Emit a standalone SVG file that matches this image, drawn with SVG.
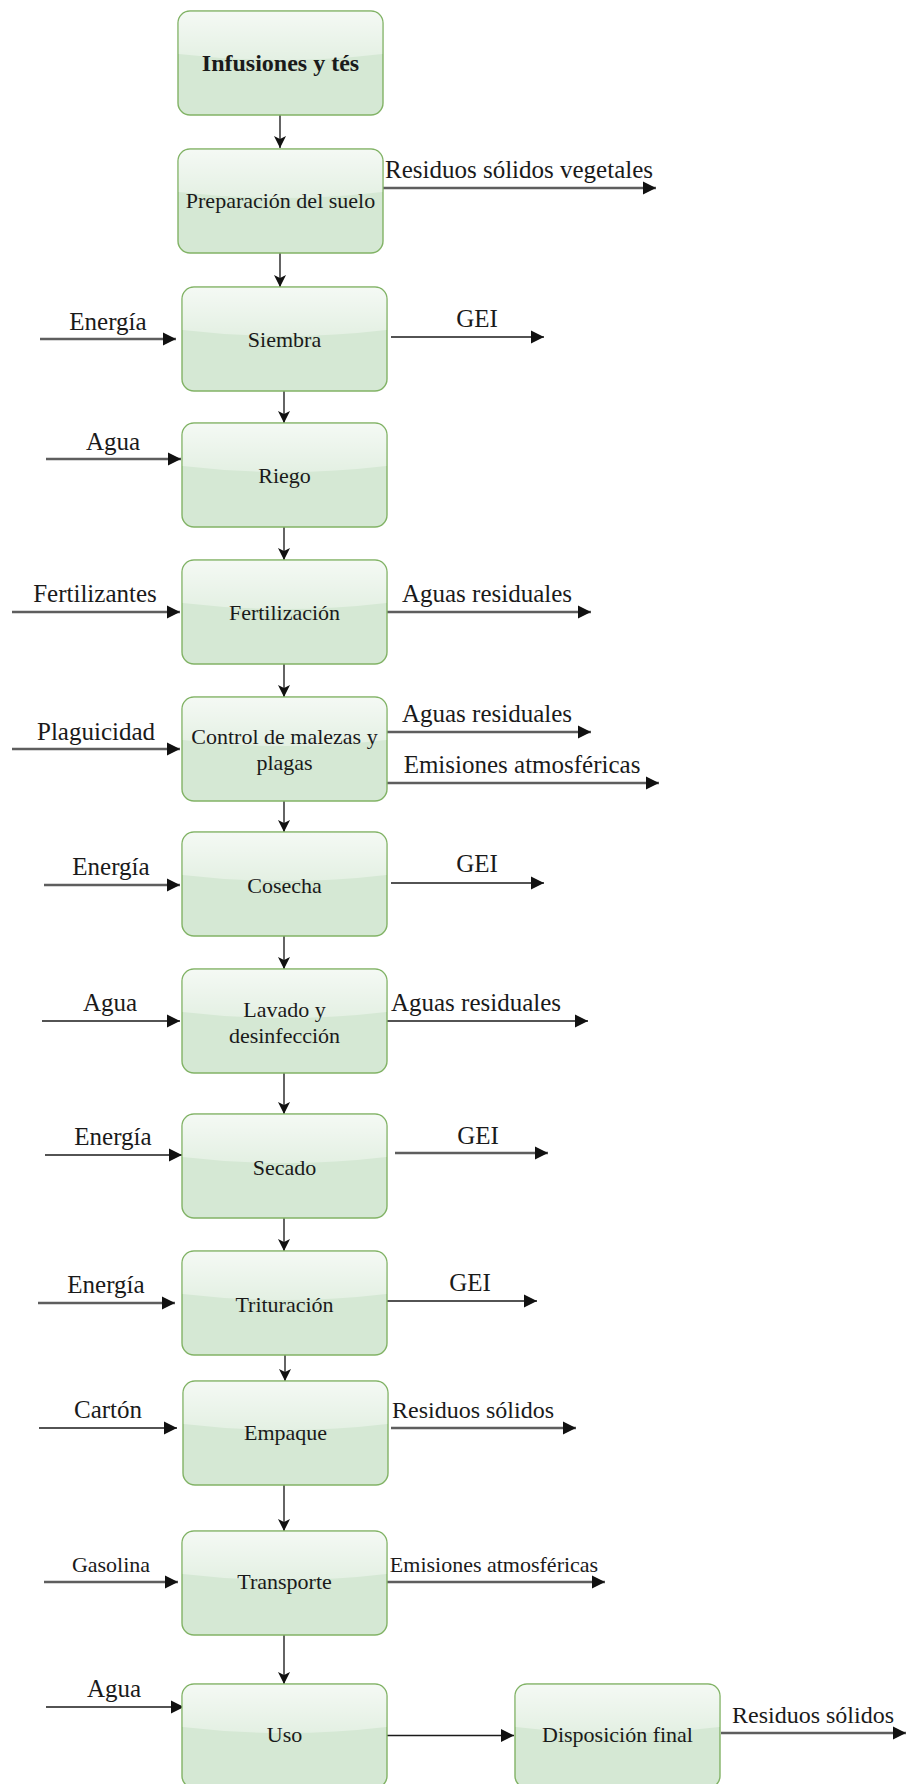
<svg xmlns="http://www.w3.org/2000/svg" xmlns:xlink="http://www.w3.org/1999/xlink" width="908" height="1784" viewBox="0 0 908 1784">
  <style>
    .box { fill: #d5e8d4; stroke: #82b366; stroke-width: 1.4; }
    .glass { fill: url(#glassGrad); }
    .node-text { font-family: "Liberation Serif", "Times New Roman", serif; font-size: 22px; fill: #1a1a1a; text-anchor: middle; }
    .title { font-weight: bold; font-size: 24px; }
    .flow-label { font-family: "Liberation Serif", "Times New Roman", serif; font-size: 25px; fill: #1a1a1a; text-anchor: middle; }
    .small { font-size: 22px; }
    .mid { font-size: 24px; }
    .main { fill: none; stroke: #111; stroke-width: 1.3; marker-end: url(#classic); }
    .thick { fill: none; stroke: #5e5e5e; stroke-width: 2.6; marker-end: url(#block); }
    .thin { fill: none; stroke: #1a1a1a; stroke-width: 1.7; marker-end: url(#block); }
  </style>
  <defs>
    <linearGradient id="glassGrad" x1="0" y1="0" x2="0" y2="1">
      <stop offset="0" stop-color="#ffffff" stop-opacity="0.75"/>
      <stop offset="1" stop-color="#ffffff" stop-opacity="0.35"/>
    </linearGradient>
    <marker id="classic" markerUnits="userSpaceOnUse" markerWidth="12" markerHeight="12" refX="12" refY="6" orient="auto">
      <path d="M0,0 L12,6 L0,12 L3,6 Z" fill="#111"/>
    </marker>
    <marker id="block" markerUnits="userSpaceOnUse" markerWidth="14" markerHeight="14" refX="13" refY="7" orient="auto">
      <path d="M0,0.5 L13,7 L0,13.5 Z" fill="#111"/>
    </marker>
    <!-- shared rounded process box with glossy top half -->
    <g id="shape">
      <rect class="box" x="0" y="0" width="205" height="104" rx="12" ry="12"/>
      <path class="glass" d="M12,0.7 H193 A11.3,11.3 0 0 1 204.3,12 V43 Q102.5,55 0.7,43 V12 A11.3,11.3 0 0 1 12,0.7 Z"/>
    </g>
  </defs>

  <rect x="0" y="0" width="908" height="1784" fill="#ffffff"/>

  <!-- connectors -->
  <g id="connectors">
    <!-- main process chain -->
    <line class="main" x1="280" y1="115" x2="280" y2="148"/>
    <line class="main" x1="280" y1="252" x2="280" y2="287"/>
    <line class="main" x1="284" y1="391" x2="284" y2="423"/>
    <line class="main" x1="284" y1="527" x2="284" y2="560"/>
    <line class="main" x1="284" y1="664" x2="284" y2="697"/>
    <line class="main" x1="284" y1="801" x2="284" y2="832"/>
    <line class="main" x1="284" y1="936" x2="284" y2="969"/>
    <line class="main" x1="284" y1="1073" x2="284" y2="1114"/>
    <line class="main" x1="284" y1="1218" x2="284" y2="1251"/>
    <line class="main" x1="285" y1="1355" x2="285" y2="1381"/>
    <line class="main" x1="284" y1="1485" x2="284" y2="1531"/>
    <line class="main" x1="284" y1="1635" x2="284" y2="1684"/>
    <line class="thin" x1="387" y1="1735.5" x2="514" y2="1735.5"/>

    <!-- inputs -->
    <line class="thick" x1="40" y1="339" x2="176" y2="339"/>
    <line class="thick" x1="46" y1="459" x2="181" y2="459"/>
    <line class="thick" x1="12" y1="612" x2="180" y2="612"/>
    <line class="thick" x1="12" y1="749" x2="180" y2="749"/>
    <line class="thick" x1="44" y1="885" x2="180" y2="885"/>
    <line class="thin" x1="42" y1="1021" x2="180" y2="1021"/>
    <line class="thin" x1="45" y1="1155" x2="182" y2="1155"/>
    <line class="thick" x1="38" y1="1303" x2="175" y2="1303"/>
    <line class="thin" x1="39" y1="1428" x2="177" y2="1428"/>
    <line class="thick" x1="44" y1="1582" x2="178" y2="1582"/>
    <line class="thin" x1="46" y1="1707" x2="184" y2="1707"/>

    <!-- outputs -->
    <line class="thick" x1="383" y1="188" x2="656" y2="188"/>
    <line class="thin" x1="391" y1="337" x2="544" y2="337"/>
    <line class="thick" x1="387" y1="612" x2="591" y2="612"/>
    <line class="thick" x1="387" y1="732" x2="591" y2="732"/>
    <line class="thick" x1="387" y1="783" x2="659" y2="783"/>
    <line class="thin" x1="391" y1="883" x2="544" y2="883"/>
    <line class="thin" x1="383" y1="1021" x2="588" y2="1021"/>
    <line class="thick" x1="395" y1="1153" x2="548" y2="1153"/>
    <line class="thin" x1="385" y1="1301" x2="537" y2="1301"/>
    <line class="thick" x1="391" y1="1428" x2="576" y2="1428"/>
    <line class="thick" x1="387" y1="1582" x2="605" y2="1582"/>
    <line class="thick" x1="721" y1="1733" x2="906" y2="1733"/>
  </g>

  <!-- flow labels -->
  <g id="flow-labels">
    <text class="flow-label" x="519" y="178">Residuos sólidos vegetales</text>
    <text class="flow-label" x="108" y="330">Energía</text>
    <text class="flow-label" x="477" y="327">GEI</text>
    <text class="flow-label" x="113" y="450">Agua</text>
    <text class="flow-label" x="95" y="602">Fertilizantes</text>
    <text class="flow-label" x="487" y="602">Aguas residuales</text>
    <text class="flow-label" x="96" y="740">Plaguicidad</text>
    <text class="flow-label" x="487" y="722">Aguas residuales</text>
    <text class="flow-label" x="522" y="773">Emisiones atmosféricas</text>
    <text class="flow-label" x="111" y="875">Energía</text>
    <text class="flow-label" x="477" y="872">GEI</text>
    <text class="flow-label" x="110" y="1011">Agua</text>
    <text class="flow-label" x="476" y="1011">Aguas residuales</text>
    <text class="flow-label" x="113" y="1145">Energía</text>
    <text class="flow-label" x="478" y="1144">GEI</text>
    <text class="flow-label" x="106" y="1293">Energía</text>
    <text class="flow-label" x="470" y="1291">GEI</text>
    <text class="flow-label" x="108" y="1418">Cartón</text>
    <text class="flow-label mid" x="473" y="1418">Residuos sólidos</text>
    <text class="flow-label small" x="111" y="1572">Gasolina</text>
    <text class="flow-label small" x="494" y="1572">Emisiones atmosféricas</text>
    <text class="flow-label" x="114" y="1697">Agua</text>
    <text class="flow-label mid" x="813" y="1723">Residuos sólidos</text>
  </g>

  <!-- process nodes -->
  <g id="node-infusiones" transform="translate(178,11)">
    <use xlink:href="#shape"/>
    <text class="node-text title" x="102.5" y="60">Infusiones y tés</text>
  </g>
  <g id="node-preparacion" transform="translate(178,149)">
    <use xlink:href="#shape"/>
    <text class="node-text" x="102.5" y="59">Preparación del suelo</text>
  </g>
  <g id="node-siembra" transform="translate(182,287)">
    <use xlink:href="#shape"/>
    <text class="node-text" x="102.5" y="60">Siembra</text>
  </g>
  <g id="node-riego" transform="translate(182,423)">
    <use xlink:href="#shape"/>
    <text class="node-text" x="102.5" y="60">Riego</text>
  </g>
  <g id="node-fertilizacion" transform="translate(182,560)">
    <use xlink:href="#shape"/>
    <text class="node-text" x="102.5" y="60">Fertilización</text>
  </g>
  <g id="node-control" transform="translate(182,697)">
    <use xlink:href="#shape"/>
    <text class="node-text" x="102.5" y="46.5">Control de malezas y</text>
    <text class="node-text" x="102.5" y="73">plagas</text>
  </g>
  <g id="node-cosecha" transform="translate(182,832)">
    <use xlink:href="#shape"/>
    <text class="node-text" x="102.5" y="61">Cosecha</text>
  </g>
  <g id="node-lavado" transform="translate(182,969)">
    <use xlink:href="#shape"/>
    <text class="node-text" x="102.5" y="47.5">Lavado y</text>
    <text class="node-text" x="102.5" y="73.5">desinfección</text>
  </g>
  <g id="node-secado" transform="translate(182,1114)">
    <use xlink:href="#shape"/>
    <text class="node-text" x="102.5" y="61">Secado</text>
  </g>
  <g id="node-trituracion" transform="translate(182,1251)">
    <use xlink:href="#shape"/>
    <text class="node-text" x="102.5" y="60.5">Trituración</text>
  </g>
  <g id="node-empaque" transform="translate(183,1381)">
    <use xlink:href="#shape"/>
    <text class="node-text" x="102.5" y="59">Empaque</text>
  </g>
  <g id="node-transporte" transform="translate(182,1531)">
    <use xlink:href="#shape"/>
    <text class="node-text" x="102.5" y="57.5">Transporte</text>
  </g>
  <g id="node-uso" transform="translate(182,1684)">
    <use xlink:href="#shape"/>
    <text class="node-text" x="102.5" y="57.5">Uso</text>
  </g>
  <g id="node-disposicion" transform="translate(515,1684)">
    <use xlink:href="#shape"/>
    <text class="node-text" x="102.5" y="57.5">Disposición final</text>
  </g>
</svg>
